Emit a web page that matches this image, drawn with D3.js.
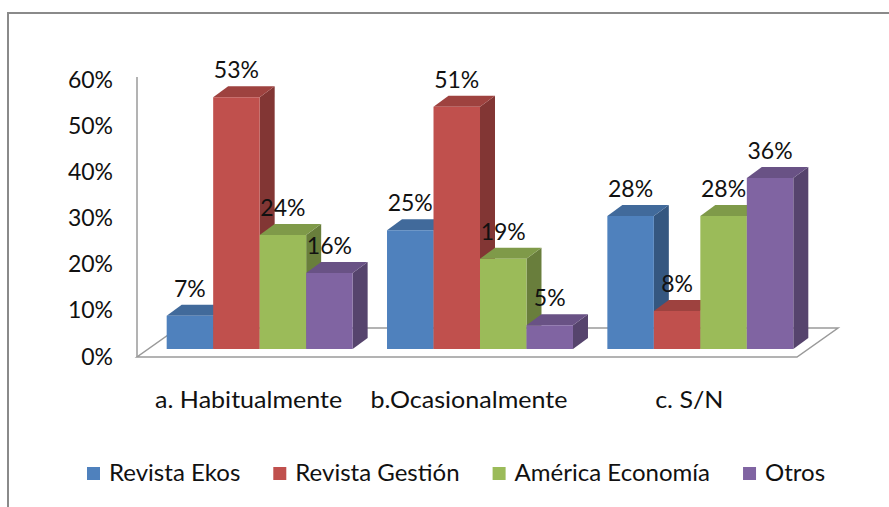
<!DOCTYPE html>
<html>
<head>
<meta charset="utf-8">
<script src="https://cdn.jsdelivr.net/npm/d3@7/dist/d3.min.js"></script>
<style>
  html, body { margin: 0; padding: 0; background: #fff; }
  svg { display: block; }
  text { font-family: Lato, "Open Sans", sans-serif; fill: #111; }
</style>
</head>
<body>
<svg id="chart" width="889" height="507"></svg>
<script>
// ---- data ----
const categories = ["a. Habitualmente", "b.Ocasionalmente", "c. S/N"];
const seriesNames = ["Revista Ekos", "Revista Gestión", "América Economía", "Otros"];
const revistaEkos = [0.07, 0.25, 0.28];
const revistaGestion = [0.53, 0.51, 0.08];
const americaEconomia = [0.24, 0.19, 0.28];
const otros = [0.16, 0.05, 0.36];
const tickValues = [0, 0.1, 0.2, 0.3, 0.4, 0.5, 0.6];
const seriesColors = ["#4F81BD", "#C0504D", "#9BBB59", "#8064A2"];

const seriesValues = [revistaEkos, revistaGestion, americaEconomia, otros];
const fmt = d3.format(".0%");
const FS = 23;

const svg = d3.select("#chart");

// frame
svg.append("rect")
  .attr("x", 8).attr("y", 13).attr("width", 900).attr("height", 520)
  .attr("fill", "#fff").attr("stroke", "#8a8a8a").attr("stroke-width", 2);

// scales
const x0 = d3.scaleBand().domain(categories).range([149.5, 810.5])
  .paddingInner(0.156).paddingOuter(0.078);
const x1 = d3.scaleBand().domain(d3.range(seriesNames.length)).range([0, x0.bandwidth()]).padding(0);
const yBar = d3.scaleLinear().domain([0, 0.6]).range([349, 64]);
const yTick = d3.scaleLinear().domain([0, 0.6]).range([357, 80.5]);

const dx = 15, dy = -11;        // depth offset of bars
const fdx = 41, fdy = -29;      // depth of floor

// floor
const floorFront = 357, floorL = 137, floorR = 797;
svg.append("polygon")
  .attr("points", [[floorL, floorFront], [floorR, floorFront], [floorR + fdx, floorFront + fdy], [floorL + fdx, floorFront + fdy]].map(p => p.join(",")).join(" "))
  .attr("fill", "#fff").attr("stroke", "#9a9a9a").attr("stroke-width", 1.5);

// vertical axis line
svg.append("line")
  .attr("x1", floorL).attr("x2", floorL)
  .attr("y1", yTick(0.6) - 3.5).attr("y2", floorFront)
  .attr("stroke", "#9a9a9a").attr("stroke-width", 1.5);

// tick labels
svg.append("g").selectAll("text").data(tickValues).join("text")
  .attr("x", 113).attr("y", d => yTick(d) + 7.5)
  .attr("text-anchor", "end").attr("font-size", FS)
  .text(d => fmt(d));

// bars
const bars = [];
categories.forEach((c, ci) => {
  seriesNames.forEach((s, si) => {
    bars.push({ c, ci, si, v: seriesValues[si][ci] });
  });
});

const gBars = svg.append("g");
bars.forEach(b => {
  const xl = x0(b.c) + x1(b.si);
  const xr = xl + x1.bandwidth();
  const yt = yBar(b.v), yb = yBar(0);
  const col = d3.color(seriesColors[b.si]);
  const g = gBars.append("g");
  g.append("polygon")
    .attr("points", [[xr, yt], [xr + dx, yt + dy], [xr + dx, yb + dy], [xr, yb]].map(p => p.join(",")).join(" "))
    .attr("fill", col.darker(1.1));
  g.append("polygon")
    .attr("points", [[xl, yt], [xl + dx, yt + dy], [xr + dx, yt + dy], [xr, yt]].map(p => p.join(",")).join(" "))
    .attr("fill", col.darker(0.55));
  g.append("rect")
    .attr("x", xl).attr("y", yt).attr("width", xr - xl).attr("height", yb - yt)
    .attr("fill", col);
});

// data labels
svg.append("g").selectAll("text").data(bars).join("text")
  .attr("x", d => x0(d.c) + x1(d.si) + x1.bandwidth() / 2)
  .attr("y", d => yBar(d.v) + dy - 8)
  .attr("text-anchor", "middle").attr("font-size", FS)
  .text(d => fmt(d.v));

// category labels (slightly widened to match the reference's stretched text)
const catStretch = 1.09;
svg.append("g").selectAll("g").data(categories).join("g")
  .attr("transform", d => `translate(${x0(d) + x0.bandwidth() / 2 - 11},408) scale(${catStretch},1)`)
  .append("text")
  .attr("text-anchor", "middle").attr("font-size", FS)
  .text(d => d);

// legend
const legStretch = 1.045;
const lg = svg.append("g");
let lx = 87;
seriesNames.forEach((s, i) => {
  lg.append("rect").attr("x", lx).attr("y", 467).attr("width", 13).attr("height", 13)
    .attr("fill", seriesColors[i]);
  const tg = lg.append("g").attr("transform", `translate(${lx + 22},480.5) scale(${legStretch},1)`);
  const t = tg.append("text").attr("font-size", FS).text(s);
  const w = t.node().getComputedTextLength() * legStretch;
  lx = lx + 22 + w + 33;
});
</script>
</body>
</html>
